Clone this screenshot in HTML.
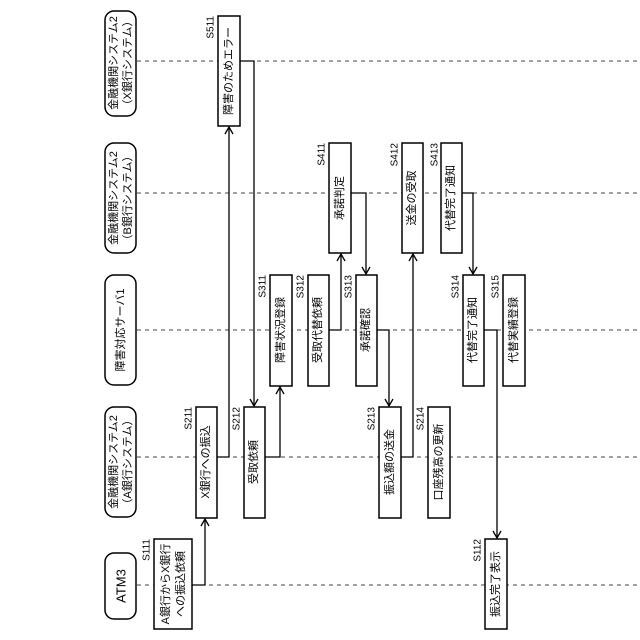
<!DOCTYPE html>
<html><head><meta charset="utf-8"><style>html,body{margin:0;padding:0;background:#fff}svg{display:block}</style></head><body>
<svg width="640" height="640" viewBox="0 0 640 640" xmlns="http://www.w3.org/2000/svg" font-family="'Liberation Sans','Noto Sans CJK JP',sans-serif">
<defs><marker id="a" markerWidth="10" markerHeight="10" refX="8" refY="5" orient="auto" markerUnits="userSpaceOnUse"><polyline points="1,1 8,5 1,9" fill="none" stroke="#000" stroke-width="1.3"/></marker></defs>
<g stroke="#444" stroke-width="1" stroke-dasharray="4,4">
<line x1="137" y1="61" x2="640" y2="61"/><line x1="137" y1="193" x2="640" y2="193"/><line x1="137" y1="330" x2="640" y2="330"/><line x1="137" y1="457" x2="640" y2="457"/><line x1="137" y1="585" x2="640" y2="585"/>
</g>
<g fill="#fff" stroke="#000" stroke-width="1.5">
<rect x="105" y="11" width="31" height="105" rx="9"/><rect x="105" y="143" width="31" height="110" rx="9"/><rect x="105" y="275" width="31" height="110" rx="9"/><rect x="105" y="407" width="31" height="110" rx="9"/><rect x="105" y="553" width="31" height="66" rx="9"/>
<rect x="218" y="16" width="22" height="110"/><rect x="329" y="143" width="22" height="110"/><rect x="402" y="143" width="21" height="110"/><rect x="441" y="143" width="21" height="110"/>
<rect x="270" y="275" width="22" height="111"/><rect x="308" y="275" width="21" height="111"/><rect x="356" y="275" width="21" height="111"/><rect x="463" y="275" width="21" height="111"/><rect x="503" y="275" width="22" height="111"/>
<rect x="196" y="407" width="21" height="111"/><rect x="244" y="407" width="21" height="111"/><rect x="379" y="407" width="22" height="111"/><rect x="428" y="407" width="22" height="111"/>
<rect x="154" y="539" width="38" height="90"/><rect x="485" y="539" width="22" height="90"/>
</g>
<g fill="none" stroke="#000" stroke-width="1.3" marker-end="url(#a)">
<polyline points="192,585 205,585 205,519"/><polyline points="217,457 229,457 229,127"/><polyline points="240,61 254,61 254,406"/><polyline points="265,457 280,457 280,387"/><polyline points="329,330 341,330 341,254"/><polyline points="351,193 366,193 366,274"/><polyline points="377,330 389,330 389,406"/><polyline points="401,457 413,457 413,254"/><polyline points="462,193 473,193 473,274"/><polyline points="484,330 497,330 497,538"/>
</g>
<g font-size="11" text-anchor="middle" dominant-baseline="central" fill="#000">
<text transform="translate(114,63) rotate(-90)">金融機関システム2</text><text transform="translate(128,63) rotate(-90)">（X銀行システム）</text>
<text transform="translate(114,198) rotate(-90)">金融機関システム2</text><text transform="translate(128,198) rotate(-90)">（B銀行システム）</text>
<text transform="translate(121,330) rotate(-90)">障害対応サーバ1</text>
<text transform="translate(114,462) rotate(-90)">金融機関システム2</text><text transform="translate(128,462) rotate(-90)">（A銀行システム）</text>
<text transform="translate(121,586) rotate(-90)" font-size="13">ATM3</text>
<text transform="translate(229,71) rotate(-90)">障害のためエラー</text>
<text transform="translate(340,198) rotate(-90)">承諾判定</text><text transform="translate(412,198) rotate(-90)">送金の受取</text><text transform="translate(451,198) rotate(-90)">代替完了通知</text>
<text transform="translate(281,330) rotate(-90)">障害状況登録</text><text transform="translate(318,330) rotate(-90)">受取代替依頼</text><text transform="translate(366,330) rotate(-90)">承諾確認</text><text transform="translate(473,330) rotate(-90)">代替完了通知</text><text transform="translate(514,330) rotate(-90)">代替実績登録</text>
<text transform="translate(206,462) rotate(-90)">X銀行への振込</text><text transform="translate(254,462) rotate(-90)">受取依頼</text><text transform="translate(390,462) rotate(-90)">振込額の送金</text><text transform="translate(439,462) rotate(-90)">口座残高の更新</text>
<text transform="translate(166,584) rotate(-90)">A銀行からX銀行</text><text transform="translate(181,584) rotate(-90)">への振込依頼</text>
<text transform="translate(496,584) rotate(-90)">振込完了表示</text>
</g>
<g font-size="10" text-anchor="end" dominant-baseline="central" fill="#000">
<text transform="translate(211,16) rotate(-90)">S511</text>
<text transform="translate(322,143) rotate(-90)">S411</text><text transform="translate(395,143) rotate(-90)">S412</text><text transform="translate(435,143) rotate(-90)">S413</text>
<text transform="translate(263,275) rotate(-90)">S311</text><text transform="translate(301,275) rotate(-90)">S312</text><text transform="translate(349,275) rotate(-90)">S313</text><text transform="translate(456,275) rotate(-90)">S314</text><text transform="translate(496,275) rotate(-90)">S315</text>
<text transform="translate(189,407) rotate(-90)">S211</text><text transform="translate(237,407) rotate(-90)">S212</text><text transform="translate(372,407) rotate(-90)">S213</text><text transform="translate(421,407) rotate(-90)">S214</text>
<text transform="translate(147,539) rotate(-90)">S111</text><text transform="translate(478,539) rotate(-90)">S112</text>
</g>
</svg>
</body></html>
